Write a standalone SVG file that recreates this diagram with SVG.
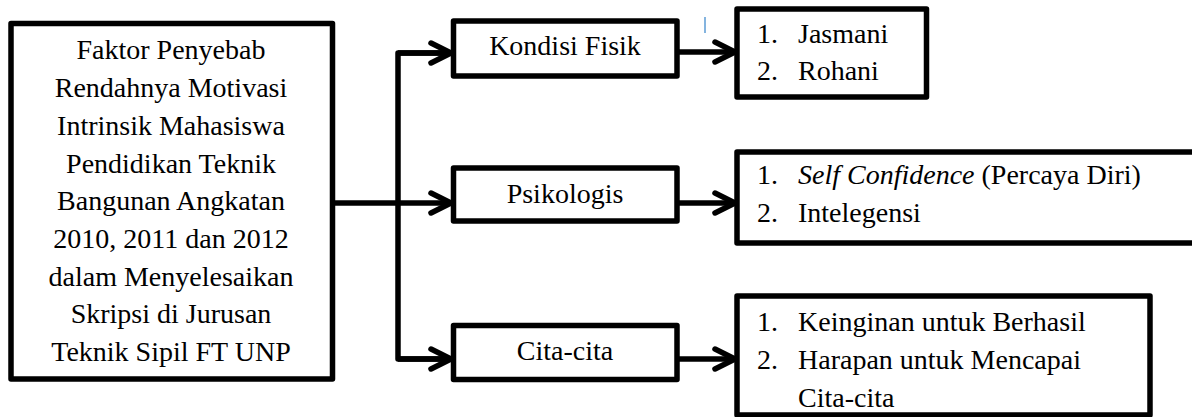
<svg xmlns="http://www.w3.org/2000/svg" width="1192" height="417" viewBox="0 0 1192 417">
<style>
.box{fill:#fff;stroke:#000;stroke-width:5.5;stroke-linejoin:round}
.t{font-family:'Times New Roman',Tinos,'Liberation Serif','Noto Serif','DejaVu Serif',FreeSerif,Times,serif;font-size:28px;fill:#000}
.c{text-anchor:middle}
.ln{fill:none;stroke:#000;stroke-width:5.5;stroke-linejoin:round}
</style>
<defs>
<marker id="arr" markerUnits="userSpaceOnUse" viewBox="-26 -16 32 32" refX="0" refY="0" markerWidth="32" markerHeight="32" orient="auto" overflow="visible">
<path d="M-20,-10 L0,0 L-20,10" fill="none" stroke="#000" stroke-width="5.5" stroke-linecap="round" stroke-linejoin="round"/>
</marker>
</defs>
<rect width="1192" height="417" fill="#fff"/>
<g id="connectors">
<path class="ln" d="M332,203 L398,203"/>
<path class="ln" d="M451,53 L398,53 L398,359 L451,359"/>
<path class="ln" d="M398,203 L451,203" marker-end="url(#arr)"/>
<path class="ln" d="M398,53 L451,53" marker-end="url(#arr)"/>
<path class="ln" d="M398,359 L451,359" marker-end="url(#arr)"/>
<path class="ln" d="M677,52 L735,52" marker-end="url(#arr)"/>
<path class="ln" d="M677,203 L735,203" marker-end="url(#arr)"/>
<path class="ln" d="M677,359 L735,359" marker-end="url(#arr)"/>
</g>
<g id="main">
<rect class="box" x="11" y="23.5" width="321.5" height="355.5"/>
<text class="t c" x="171" y="59">Faktor Penyebab</text>
<text class="t c" x="171" y="97">Rendahnya Motivasi</text>
<text class="t c" x="171" y="135">Intrinsik Mahasiswa</text>
<text class="t c" x="171" y="172.5">Pendidikan Teknik</text>
<text class="t c" x="171" y="210">Bangunan Angkatan</text>
<text class="t c" x="171" y="248">2010, 2011 dan 2012</text>
<text class="t c" x="171" y="285.5">dalam Menyelesaikan</text>
<text class="t c" x="171" y="323">Skripsi di Jurusan</text>
<text class="t c" x="171" y="361">Teknik Sipil FT UNP</text>
</g>
<g id="kondisi">
<rect class="box" x="453.5" y="21" width="223.5" height="55"/>
<text class="t c" x="565" y="55">Kondisi Fisik</text>
</g>
<g id="psikologis">
<rect class="box" x="453.5" y="168" width="223.5" height="53"/>
<text class="t c" x="565" y="203">Psikologis</text>
</g>
<g id="citacita">
<rect class="box" x="453.5" y="325.5" width="223.5" height="54"/>
<text class="t c" x="565" y="360">Cita-cita</text>
</g>
<g id="fisik-list">
<rect class="box" x="737" y="9" width="189.5" height="88"/>
<text class="t" x="757" y="43">1.</text><text class="t" x="798" y="43">Jasmani</text>
<text class="t" x="757" y="80">2.</text><text class="t" x="798" y="80">Rohani</text>
</g>
<g id="psiko-list">
<rect class="box" x="737" y="152" width="470" height="91"/>
<text class="t" x="757" y="184">1.</text><text class="t" x="798" y="184"><tspan font-style="italic">Self Confidence</tspan> (Percaya Diri)</text>
<text class="t" x="757" y="222">2.</text><text class="t" x="798" y="222">Intelegensi</text>
</g>
<g id="cita-list">
<rect class="box" x="737" y="296" width="413" height="119"/>
<text class="t" x="757" y="330.5">1.</text><text class="t" x="798" y="330.5">Keinginan untuk Berhasil</text>
<text class="t" x="757" y="369">2.</text><text class="t" x="798" y="369">Harapan untuk Mencapai</text>
<text class="t" x="798" y="406.5">Cita-cita</text>
</g>
<line x1="705" y1="17" x2="705" y2="33" stroke="#5b9bd5" stroke-width="1.5"/>
</svg>
